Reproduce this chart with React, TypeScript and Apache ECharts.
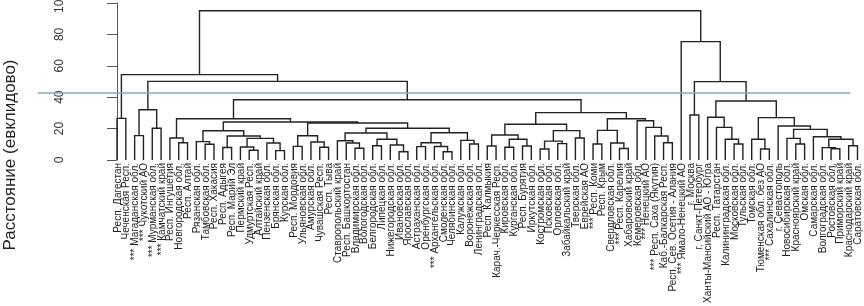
import React, { useEffect, useRef } from "react";
import * as echarts from "echarts";

const leafLabels = [
  "Респ. Дагестан", "Чеченская Респ.", "*** Магаданская обл.", "*** Чукотский АО",
  "*** Мурманская обл.", "*** Камчатский край", "Респ. Ингушетия", "Новгородская обл.",
  "Респ. Алтай", "Рязанская обл.", "Тамбовская обл.", "Респ. Хакасия", "Респ. Адыгея",
  "Респ. Марий Эл", "Пермский край", "Удмуртская Респ.", "Алтайский край", "Пензенская обл.",
  "Брянская обл.", "Курская обл.", "Респ. Мордовия", "Ульяновская обл.", "Амурская обл.",
  "Чувашская Респ.", "Респ. Тыва", "Ставропольский край", "Респ. Башкортостан",
  "Владимирская обл.", "Вологодская обл.", "Белгородская обл.", "Липецкая обл.",
  "Нижегородская обл.", "Ивановская обл.", "Ярославская обл.", "Астраханская обл.",
  "Оренбургская обл.", "*** Архангельская обл.", "Смоленская обл.", "Челябинская обл.",
  "Калужская обл.", "Воронежская обл.", "Ленинградская обл.", "Респ. Калмыкия",
  "Карач.-Черкесская Респ.", "Кировская обл.", "Курганская обл.", "Респ. Бурятия",
  "Иркутская обл.", "Костромская обл.", "Псковская обл.", "Орловская обл.",
  "Забайкальский край", "Тверская обл.", "Еврейская АО", "*** Респ. Коми", "Респ. Крым",
  "Свердловская обл.", "*** Респ. Карелия", "Хабаровский край", "Кемеровская обл.",
  "*** Ненецкий АО", "*** Респ. Саха (Якутия)", "Каб.-Балкарская Респ.",
  "Респ. Сев. Осетия - Алания", "*** Ямало-Ненецкий АО", "г. Москва", "г. Санкт-Петербург",
  "Ханты-Мансийский АО - Югра", "Респ. Татарстан", "Калининградская обл.", "Московская обл.",
  "Тульская обл.", "Томская обл.", "Тюменская обл. без АО", "*** Сахалинская обл.",
  "г. Севастополь", "Новосибирская обл.", "Красноярский край", "Омская обл.",
  "Самарская обл.", "Волгоградская обл.", "Ростовская обл.", "Приморский край",
  "Краснодарский край", "Саратовская обл."
];

// Merge table (R hclust style): negative = leaf number (1-based), positive = earlier merge (1-based)
const mergeA = [
  -1, -3, -5, 2, -8, -7, -11, -10, -13, -16, -15, -19, -18, 11, 9, 8, -21, -24, -23, 17,
  -28, -27, -26, -30, -33, -32, 24, 23, -35, -38, -37, 29, -41, -40, 32, 28, 20, 16, 6,
  -43, -45, -47, 41, 40, -49, -51, 45, -53, 47, 44, -55, -58, -57, 51, -63, -62, -61, -60,
  54, 50, 39, 4, 1,
  -66, -71, -70, -69, -68, -74, -73, -78, -77, -82, -81, -84, 74, -80, 72, -76, 70, 68, 64,
  -65, 63
];
const mergeB = [
  -2, -4, -6, 3, -9, 5, -12, 7, -14, -17, 10, -20, 12, 13, 14, 15, -22, -25, 18, 19,
  -29, 21, 22, -31, -34, 25, 26, 27, -36, -39, 30, 31, -42, 33, 34, 35, 36, 37, 38,
  -44, -46, -48, 42, 43, -50, -52, 46, -54, 48, 49, -56, -59, 52, 53, -64, 55, 56, 57,
  58, 59, 60, 61, 62,
  -67, -72, 65, 66, 67, -75, 69, -79, 71, -83, 73, -85, 75, 76, 77, 78, 79, 80, 81,
  82, 83
];
const mergeHeight = [
  26.5, 15.5, 20.2, 32.0, 11.0, 14.0, 10.0, 11.7, 8.0, 6.2, 8.3, 6.0, 10.8, 13.8, 15.3, 18.6,
  8.7, 8.1, 11.5, 15.4, 7.5, 10.8, 12.3, 9.1, 5.3, 9.6, 13.2, 17.2, 8.5, 5.3, 8.6, 11.0,
  10.2, 12.5, 17.4, 20.2, 23.6, 24.2, 26.3,
  8.9, 8.1, 8.9, 13.2, 15.9, 7.0, 10.4, 12.0, 14.0, 18.7, 22.8, 10.2, 7.3, 10.8, 18.9,
  11.0, 15.3, 20.8, 25.0, 26.3, 30.2, 38.4, 50.1, 54.4,
  28.7, 10.2, 13.2, 20.8, 27.2, 7.0, 13.2, 10.2, 13.8, 7.2, 7.9, 9.1, 13.2, 14.8, 19.5,
  21.7, 27.0, 37.6, 49.9, 75.4, 95.1
];

const cutHeight = 42.7;
const yMin = 0;
const yMax = 100;
const yStep = 20;
const axisTitle = "Расстояние (евклидово)";

function buildLinks() {
  const pos: number[] = [];
  const hgt: number[] = [];
  const links: number[][] = [];
  const get = (c: number) => (c < 0 ? [-c - 1, 0] : [pos[c - 1], hgt[c - 1]]);
  for (let i = 0; i < mergeA.length; i++) {
    const [xa, ha] = get(mergeA[i]);
    const [xb, hb] = get(mergeB[i]);
    pos.push((xa + xb) / 2);
    hgt.push(mergeHeight[i]);
    links.push([xa, ha, xb, hb, mergeHeight[i]]);
  }
  return links;
}

export default function App() {
  const ref = useRef<HTMLDivElement>(null);
  useEffect(() => {
    if (!ref.current) return;
    const chart = echarts.init(ref.current, null, { renderer: "svg" });
    const links = buildLinks();
    chart.setOption({
      animation: false,
      grid: {
        left: 112.6,
        right: 2.1,
        top: 3,
        bottom: 146,
        containLabel: false,
        outerBoundsMode: "none",
      },
      xAxis: [
        {
          type: "category",
          data: leafLabels,
          boundaryGap: true,
          axisLine: { show: false },
          axisTick: { show: false },
          axisLabel: {
            interval: 0,
            rotate: 90,
            fontSize: 10,
            margin: 3,
            color: "#222",
            fontFamily: "Liberation Sans, Arial, sans-serif",
          },
          splitLine: { show: false },
        },
        { type: "value", min: -0.5, max: leafLabels.length - 0.5, show: false },
      ],
      yAxis: {
        type: "value",
        min: yMin,
        max: yMax,
        interval: yStep,
        offset: 26.6,
        axisLine: { show: true, lineStyle: { color: "#555", width: 1 } },
        axisTick: { show: true, length: 10, lineStyle: { color: "#555", width: 1 } },
        axisLabel: {
          rotate: 90,
          fontSize: 12,
          margin: 21,
          color: "#333",
          fontFamily: "Liberation Sans, Arial, sans-serif",
        },
        splitLine: { show: false },
      },
      series: [
        {
          type: "custom",
          xAxisIndex: 1,
          yAxisIndex: 0,
          clip: false,
          encode: { x: [0, 2], y: [1, 3, 4] },
          data: links,
          renderItem: (params: any, api: any) => {
            const xa = api.value(0), ha = api.value(1), xb = api.value(2), hb = api.value(3), h = api.value(4);
            const pts = [api.coord([xa, ha]), api.coord([xa, h]), api.coord([xb, h]), api.coord([xb, hb])];
            return {
              type: "polyline",
              shape: { points: pts },
              style: { stroke: "#222", lineWidth: 1.4, fill: null },
            };
          },
        },
      ],
    });
    const yCut = chart.convertToPixel({ yAxisIndex: 0 }, cutHeight) as number;
    chart.setOption({
      graphic: [
        {
          type: "line",
          shape: { x1: 38, y1: yCut, x2: 850, y2: yCut },
          style: { stroke: "#84a9c6", lineWidth: 1.5 },
          z: 10,
        },
        {
          type: "text",
          x: 9,
          y: 155,
          rotation: Math.PI / 2,
          style: {
            text: axisTitle,
            fontSize: 17,
            fontFamily: "Liberation Sans, Arial, sans-serif",
            fill: "#222",
            align: "center",
            verticalAlign: "middle",
          },
        },
      ],
    });
    return () => chart.dispose();
  }, []);
  return (
    <div
      ref={ref}
      style={{ position: "fixed", left: 0, top: 0, width: 864, height: 306 }}
    />
  );
}
